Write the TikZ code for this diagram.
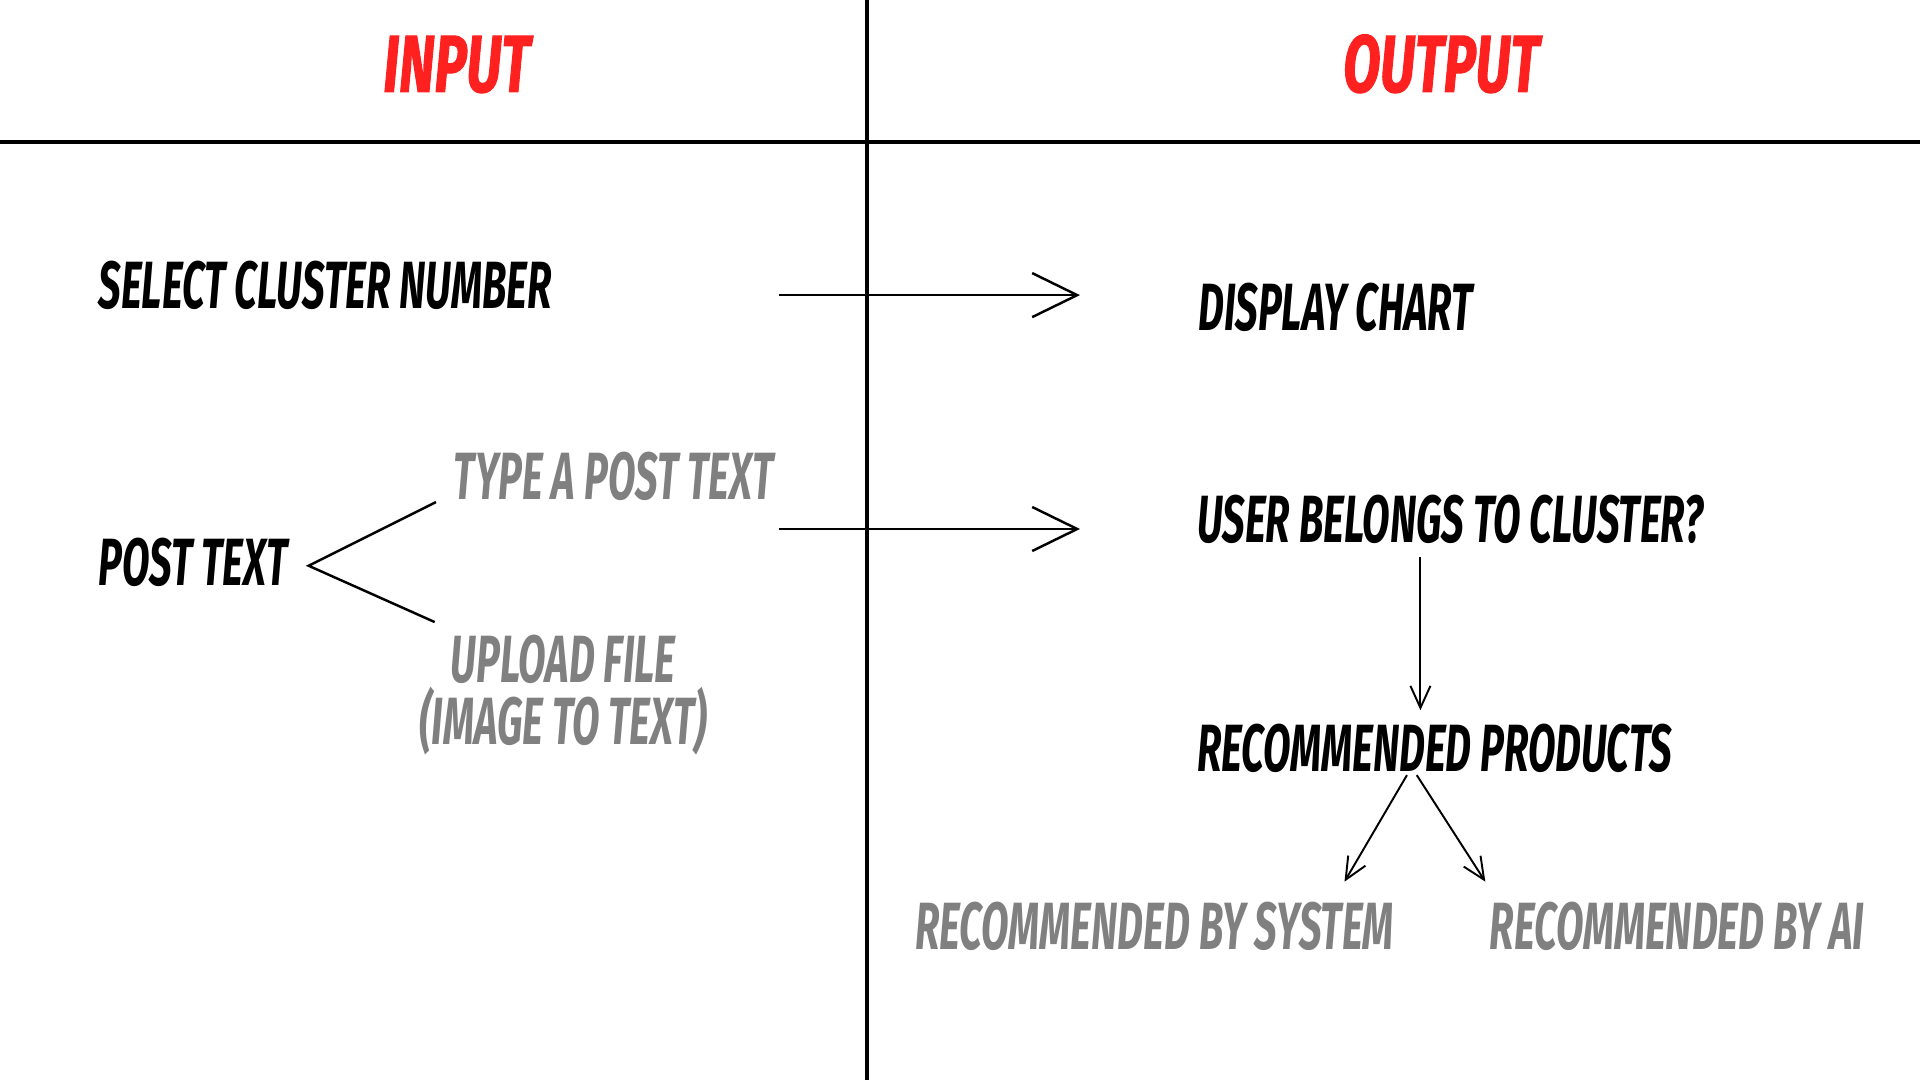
\documentclass[tikz,border=0pt]{standalone}
\usepackage{fontspec}
\newfontfamily\sketchfont{Fira Sans}[FakeStretch=0.60]
\newfontfamily\titlefont{Fira Sans}[FakeStretch=0.67,FakeBold=1.2]
\usepackage{tikz}
\usetikzlibrary{arrows.meta,positioning}

\definecolor{titlered}{RGB}{255,32,32}
\definecolor{subgray}{RGB}{128,128,128}

\begin{document}
\begin{tikzpicture}[
  x=0.012245cm, y=-0.012245cm,
  every node/.style={
    inner sep=0pt,
    font=\sketchfont\bfseries\itshape\fontsize{19pt}{22pt}\selectfont
  },
  title/.style={
    text=titlered,
    font=\titlefont\bfseries\itshape\fontsize{23pt}{26pt}\selectfont
  },
  sub/.style={text=subgray},
  divider/.style={line width=1.05pt},
  arrow/.style={-{Straight Barb[length=0.45cm,width=0.44cm]}, line width=0.7pt},
  smallarrow/.style={-{Straight Barb[length=0.22cm,width=0.2cm]}, line width=0.55pt}
]

\useasboundingbox (0,0) rectangle (1568,882);

% frame
\draw[divider] (708,0) -- (708,882);
\draw[divider] (0,116) -- (1568,116);

\node[title, anchor=base] (input)  at (373,75)  {INPUT};
\node[title, anchor=base] (output) at (1177,75) {OUTPUT};

% input side
\node[anchor=base west] (select) at (80,252) {SELECT CLUSTER NUMBER};
\node[anchor=base west] (post)   at (80,478) {POST TEXT};
\node[sub, anchor=base west] (typed) at (370,408) {TYPE A POST TEXT};
\node[sub, anchor=north, align=center,
  font=\sketchfont\bfseries\itshape\fontsize{19pt}{15.5pt}\selectfont]
  (upload) at (460,518) {UPLOAD FILE\\(IMAGE TO TEXT)};

\coordinate (fork)  at (252,462);
\coordinate (forka) at (356,410);
\coordinate (forkb) at (355,508);
\draw[line width=0.7pt] (forka) -- (fork) -- (forkb);

% output side
\node[anchor=base west] (chart) at (978,270) {DISPLAY CHART};
\node[anchor=base west] (user)  at (977,443) {USER BELONGS TO CLUSTER?};
\node[anchor=base west] (prod)  at (977,630) {RECOMMENDED PRODUCTS};
\node[sub, anchor=base west] (bysys) at (747,775) {RECOMMENDED BY SYSTEM};
\node[sub, anchor=base west] (byai)  at (1216,775) {RECOMMENDED BY AI};

\coordinate (a1s) at (636,241);
\coordinate (a1e) at (882,241);
\coordinate (a2s) at (636,432);
\coordinate (a2e) at (882,432);
\coordinate (a3s) at (1160,455);
\coordinate (a3e) at (1160,580);
\coordinate (a4s) at (1149,633);
\coordinate (a4e) at (1098,720);
\coordinate (a5s) at (1157,633);
\coordinate (a5e) at (1213,720);

\draw[arrow] (a1s) -- (a1e);
\draw[arrow] (a2s) -- (a2e);
\draw[smallarrow] (a3s) -- (a3e);
\draw[smallarrow] (a4s) -- (a4e);
\draw[smallarrow] (a5s) -- (a5e);

\end{tikzpicture}
\end{document}
